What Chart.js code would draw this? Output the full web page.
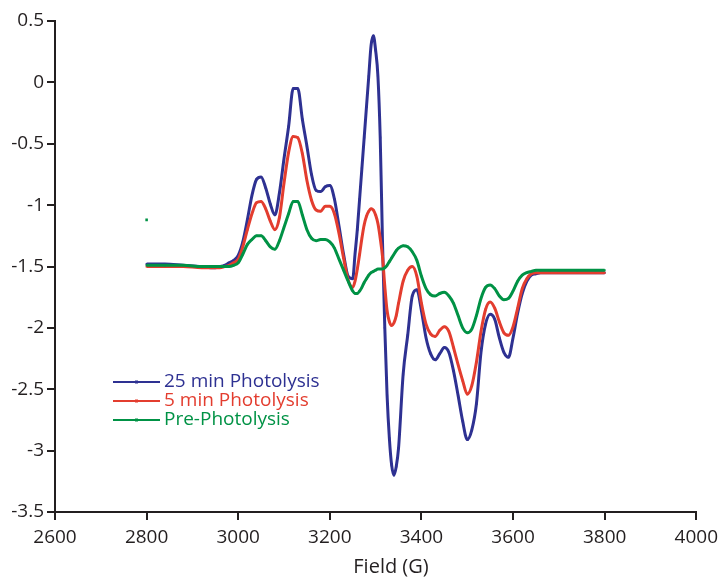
<!DOCTYPE html>
<html>
<head>
<meta charset="utf-8">
<script src="https://cdn.jsdelivr.net/npm/chart.js@4.4.1/dist/chart.umd.min.js"></script>
<style>
  html, body { margin: 0; padding: 0; background: #fff; }
  #wrap { width: 724px; height: 579px; }
</style>
</head>
<body>
<div id="wrap"><canvas id="eprChart" width="724" height="579"></canvas></div>
<script>
// Field (G) sample positions shared by all three spectra
const field = [
  2800, 2840, 2880, 2920, 2940,
  2950, 2960, 2970, 2980, 2990, 3000, 3010, 3020, 3030, 3040, 3050, 3060, 3070, 3080, 3090,
  3100, 3110, 3120, 3130, 3140, 3150, 3160, 3170, 3180, 3190, 3200, 3210, 3220, 3230, 3240, 3250,
  3255, 3260, 3265, 3270, 3275, 3280, 3285, 3290, 3295, 3300, 3305, 3310, 3315, 3320, 3325,
  3330, 3335, 3340, 3345, 3350,
  3360, 3370, 3380, 3390, 3400, 3410, 3420, 3430, 3440, 3450, 3460, 3470, 3480, 3490, 3500,
  3510, 3520, 3530, 3540, 3550, 3560, 3570, 3580, 3590, 3600, 3610, 3620, 3630, 3640, 3650, 3660,
  3680, 3700, 3740, 3780, 3800
];

const photolysis25 = [
  -1.48, -1.48, -1.49, -1.50, -1.51,
  -1.51, -1.50, -1.49, -1.47, -1.45, -1.41, -1.30, -1.12, -0.92, -0.79, -0.77, -0.86, -0.99, -1.08, -0.90,
  -0.62, -0.36, -0.05, -0.05, -0.30, -0.52, -0.75, -0.88, -0.89, -0.85, -0.84, -0.95, -1.17, -1.40, -1.58, -1.60,
  -1.40, -1.20, -0.95, -0.70, -0.45, -0.20, 0.05, 0.30, 0.38, 0.26, 0.05, -0.45, -1.30, -2.00, -2.55,
  -2.90, -3.12, -3.20, -3.13, -2.98,
  -2.38, -2.06, -1.74, -1.69, -1.86, -2.08, -2.21, -2.26, -2.21, -2.16, -2.20, -2.35, -2.55, -2.76, -2.91,
  -2.83, -2.62, -2.20, -1.97, -1.89, -1.93, -2.08, -2.20, -2.24, -2.08, -1.88, -1.72, -1.62, -1.57, -1.56, -1.55,
  -1.55, -1.55, -1.55, -1.55, -1.55
];

const photolysis5 = [
  -1.50, -1.50, -1.50, -1.51, -1.51,
  -1.51, -1.51, -1.50, -1.49, -1.47, -1.44, -1.34, -1.20, -1.07, -0.98, -0.97, -1.03, -1.13, -1.20, -1.10,
  -0.82, -0.57, -0.44, -0.45, -0.58, -0.80, -0.96, -1.04, -1.05, -1.01, -1.01, -1.07, -1.23, -1.43, -1.61, -1.67,
  -1.62, -1.52, -1.40, -1.27, -1.16, -1.09, -1.05, -1.03, -1.04, -1.08, -1.15, -1.27, -1.42, -1.66, -1.86,
  -1.95, -1.98, -1.96, -1.90, -1.80,
  -1.62, -1.53, -1.50, -1.58, -1.80, -1.97, -2.05, -2.07, -2.02, -1.99, -2.03, -2.16, -2.30, -2.43, -2.54,
  -2.47, -2.28, -2.03, -1.85, -1.79, -1.84, -1.95, -2.04, -2.06, -1.99, -1.84, -1.68, -1.60, -1.56, -1.55, -1.55,
  -1.55, -1.55, -1.55, -1.55, -1.55
];

const prePhotolysis = [
  -1.49, -1.49, -1.49, -1.50, -1.50,
  -1.50, -1.50, -1.50, -1.50, -1.49, -1.47, -1.40, -1.32, -1.28, -1.25, -1.25, -1.29, -1.34, -1.36, -1.29,
  -1.18, -1.07, -0.97, -0.97, -1.08, -1.20, -1.27, -1.29, -1.28, -1.28, -1.30, -1.35, -1.44, -1.53, -1.62, -1.70,
  -1.72, -1.72, -1.70, -1.67, -1.63, -1.60, -1.57, -1.55, -1.54, -1.53, -1.52, -1.52, -1.52, -1.51, -1.49,
  -1.46, -1.43, -1.40, -1.37, -1.35,
  -1.33, -1.34, -1.38, -1.45, -1.58, -1.68, -1.73, -1.74, -1.72, -1.71, -1.74, -1.80, -1.90, -2.00, -2.04,
  -2.01, -1.90, -1.76, -1.67, -1.65, -1.68, -1.74, -1.77, -1.76, -1.70, -1.62, -1.57, -1.55, -1.54, -1.53, -1.53,
  -1.53, -1.53, -1.53, -1.53, -1.53
];

// stray single point at the start of the pre-photolysis trace
const strayField = [2800];
const strayValue = [-1.12];

const xTicks = [2600, 2800, 3000, 3200, 3400, 3600, 3800, 4000];

const ink = '#231f20';
const blue = '#2e3192';
const red = '#e33d2f';
const green = '#009245';
const fontFamily = '"Open Sans", sans-serif';

function toPoints(xs, ys) {
  return xs.map((x, i) => ({ x: x, y: ys[i] }));
}

function spectrum(label, values, color, order) {
  return {
    label: label,
    data: toPoints(field, values),
    borderColor: color,
    backgroundColor: color,
    borderWidth: 3,
    pointRadius: 1.4,
    pointStyle: 'rect',
    pointBorderWidth: 0,
    cubicInterpolationMode: 'monotone',
    fill: false,
    order: order
  };
}

// legend inside the plot (text coloured like its series) and the axis title
const annotations = {
  id: 'annotations',
  afterDraw(chart) {
    const ctx = chart.ctx;
    const rows = chart.data.datasets.filter(d => d.showInLegend !== false);
    ctx.save();
    ctx.font = '19px ' + fontFamily;
    ctx.textBaseline = 'middle';
    rows.forEach((ds, i) => {
      const y = 382 + i * 19;
      ctx.strokeStyle = ds.borderColor;
      ctx.lineWidth = 2;
      ctx.beginPath();
      ctx.moveTo(113, y);
      ctx.lineTo(160, y);
      ctx.stroke();
      ctx.fillStyle = ds.borderColor;
      ctx.fillRect(135, y - 1.5, 3, 3);
      ctx.fillText(ds.label, 164, y);
    });
    ctx.fillStyle = ink;
    ctx.font = '20px ' + fontFamily;
    ctx.textAlign = 'center';
    ctx.fillText('Field (G)', 391, 567);
    ctx.restore();
  }
};

const datasets = [
  spectrum('25 min Photolysis', photolysis25, blue, 2),
  spectrum('5 min Photolysis', photolysis5, red, 1),
  spectrum('Pre-Photolysis', prePhotolysis, green, 0),
  {
    label: 'stray',
    showInLegend: false,
    data: toPoints(strayField, strayValue),
    showLine: false,
    borderColor: green,
    backgroundColor: green,
    pointStyle: 'rect',
    pointRadius: 1.8,
    pointBorderWidth: 0,
    order: 0
  }
];

new Chart(document.getElementById('eprChart'), {
  type: 'line',
  data: { datasets: datasets },
  options: {
    responsive: false,
    animation: false,
    devicePixelRatio: 1,
    layout: { padding: { top: 21, right: 25, bottom: 0, left: 0 } },
    plugins: {
      legend: { display: false },
      tooltip: { enabled: false }
    },
    scales: {
      x: {
        type: 'linear',
        min: 2600,
        max: 4000,
        afterBuildTicks(scale) { scale.ticks = xTicks.map(v => ({ value: v })); },
        afterFit(scale) { scale.height = 67; },
        border: { display: true, color: ink, width: 2 },
        grid: { drawOnChartArea: false, drawTicks: true, tickLength: 8, color: ink, lineWidth: 2 },
        ticks: {
          color: ink,
          padding: 6,
          maxRotation: 0,
          font: { family: fontFamily, size: 19 },
          callback: v => String(v)
        }
      },
      y: {
        type: 'linear',
        min: -3.5,
        max: 0.5,
        afterFit(scale) { scale.width = 55; },
        border: { display: true, color: ink, width: 2 },
        grid: { drawOnChartArea: false, drawTicks: true, tickLength: 8, color: ink, lineWidth: 2 },
        ticks: {
          stepSize: 0.5,
          color: ink,
          padding: 3,
          font: { family: fontFamily, size: 19 },
          callback: v => String(v)
        }
      }
    }
  },
  plugins: [annotations]
});
</script>
</body>
</html>
